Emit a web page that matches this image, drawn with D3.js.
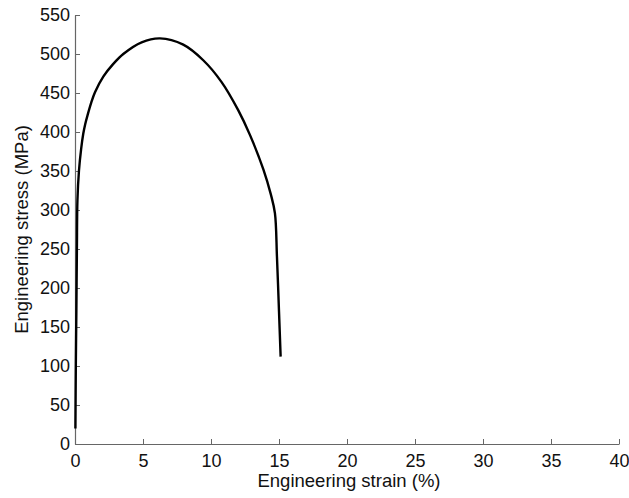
<!DOCTYPE html>
<html>
<head>
<meta charset="utf-8">
<script src="https://cdn.jsdelivr.net/npm/d3@7"></script>
<style>
  body { margin: 0; background: #fff; }
  text { font-family: "Liberation Sans", Arial, sans-serif; fill: #111; }
</style>
</head>
<body>
<div id="chart"></div>
<script>
// engineering strain (%) and engineering stress (MPa)
var strain = [0.03, 0.06, 0.10, 0.14, 0.18, 0.29, 0.45, 0.61, 0.75, 0.93, 1.2, 1.47, 2.08, 2.8, 3.55, 4.9, 6.25, 7.96, 9.43, 10.78, 12.0, 12.87, 13.85, 14.4, 14.7, 14.85, 15.0, 15.12];
var stress = [20, 100, 170, 250, 313, 350, 378, 398, 410, 422, 438, 451, 471, 487, 500, 515, 520, 512, 492, 464, 428, 396, 352, 320, 296, 240, 170, 112];
var xTicks = [0, 5, 10, 15, 20, 25, 30, 35, 40];
var yTicks = [0, 50, 100, 150, 200, 250, 300, 350, 400, 450, 500, 550];

var width = 629;
var height = 498;
var plotLeft = 75, plotRight = 619, plotTop = 15, plotBottom = 444;

var svg = d3.select("#chart").append("svg")
	.attr("width", width)
	.attr("height", height);

var x = d3.scaleLinear().domain([0, 40]).range([plotLeft, plotRight]);
var y = d3.scaleLinear().domain([0, 550]).range([plotBottom, plotTop]);

//axes with inward ticks, no box
var xAxis = svg.append("g")
	.attr("transform", "translate(0," + plotBottom + ")")
	.call(d3.axisBottom(x).tickValues(xTicks).tickSizeInner(-5).tickSizeOuter(0).tickPadding(10));
var yAxis = svg.append("g")
	.attr("transform", "translate(" + plotLeft + ",0)")
	.call(d3.axisLeft(y).tickValues(yTicks).tickSizeInner(-5).tickSizeOuter(0).tickPadding(5));

[xAxis, yAxis].forEach(function(a)
{
	a.select(".domain").attr("stroke", "#666").attr("stroke-width", 1.2);
	a.selectAll(".tick line").attr("stroke", "#666").attr("stroke-width", 1);
	a.selectAll(".tick text").style("font-size", "18px").attr("fill", "#111");
});

//axis titles
svg.append("text")
	.attr("x", (plotLeft + plotRight) / 2 + 2)
	.attr("y", 487)
	.attr("text-anchor", "middle")
	.style("font-size", "18.5px")
	.text("Engineering strain (%)");

svg.append("text")
	.attr("transform", "translate(28," + (plotTop + plotBottom) / 2 + ") rotate(-90)")
	.attr("text-anchor", "middle")
	.style("font-size", "18.5px")
	.text("Engineering stress (MPa)");

//stress-strain curve
var points = strain.map(function(s, i) { return [s, stress[i]]; });
var line = d3.line()
	.x(function(d) { return x(d[0]); })
	.y(function(d) { return y(d[1]); })
	.curve(d3.curveCatmullRom.alpha(0.5));

svg.append("path")
	.datum(points)
	.attr("d", line)
	.attr("fill", "none")
	.attr("stroke", "#000")
	.attr("stroke-width", 2.4)
	.attr("stroke-linejoin", "round");
</script>
</body>
</html>
